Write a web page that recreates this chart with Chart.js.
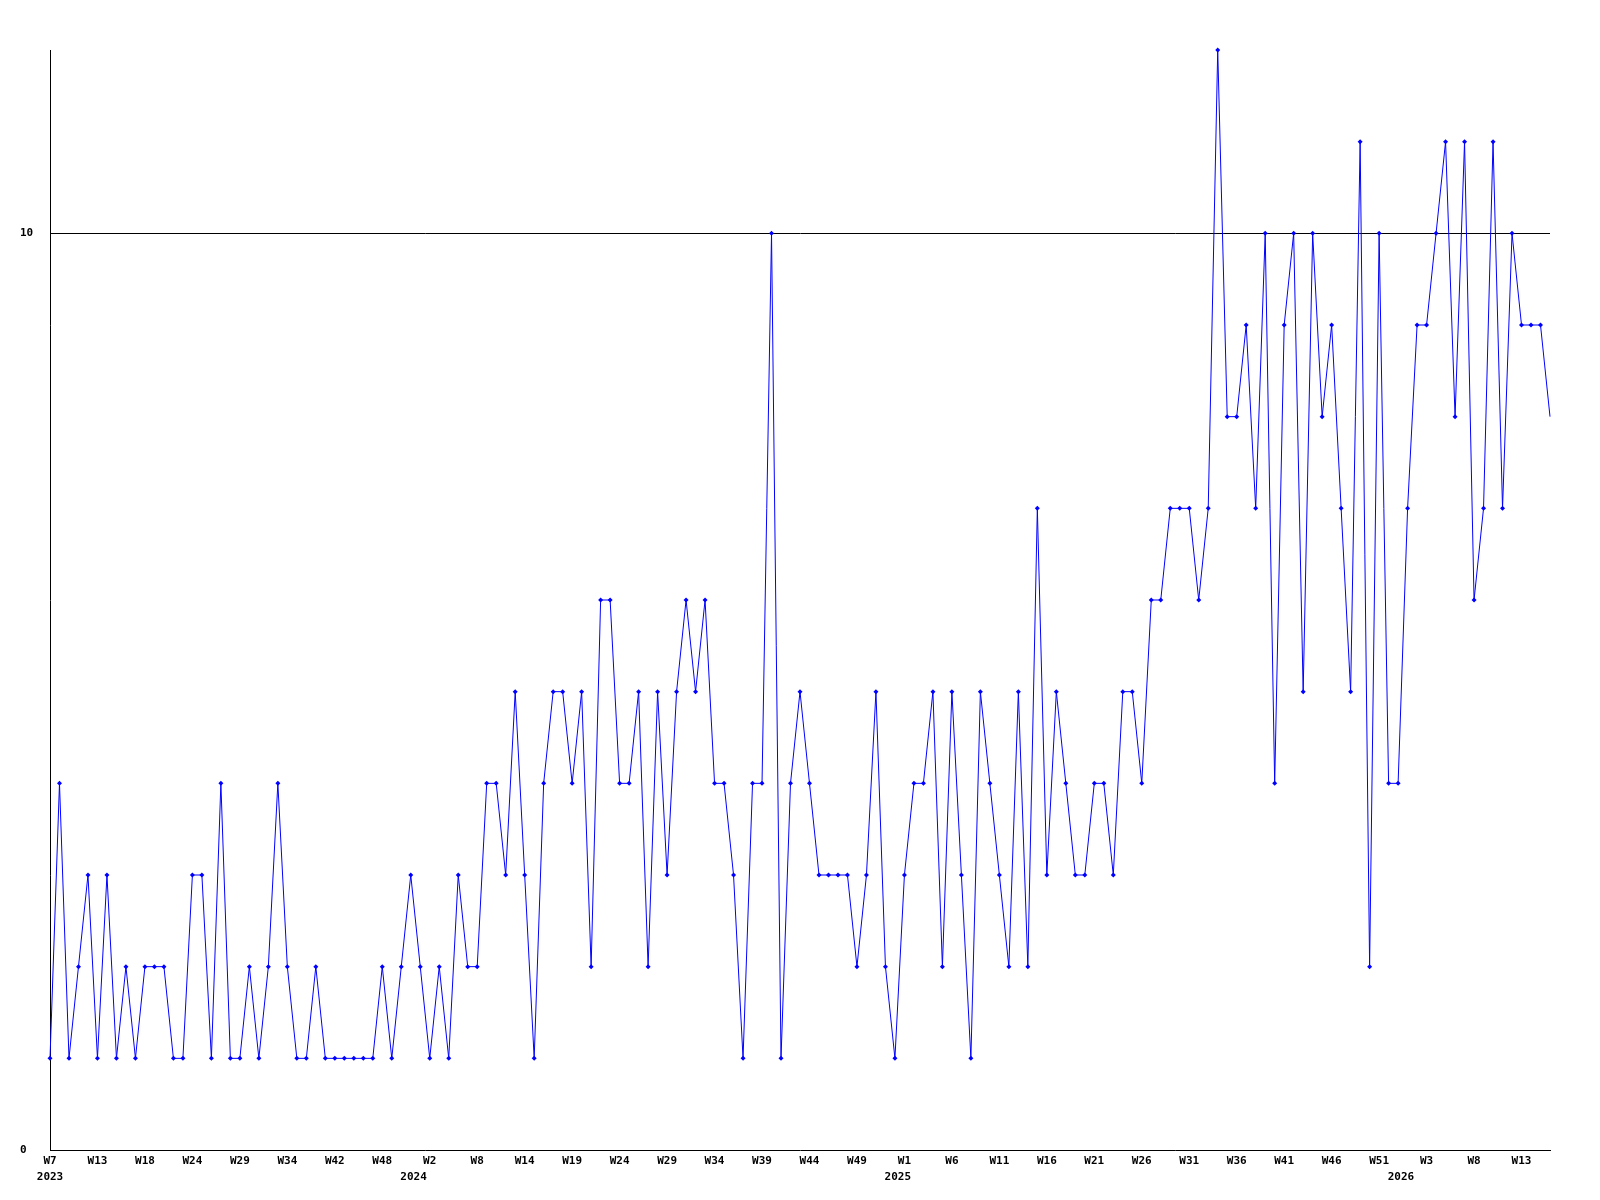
<!DOCTYPE html>
<html>
<head>
<meta charset="utf-8">
<script src="https://cdn.jsdelivr.net/npm/chart.js@4.4.1/dist/chart.umd.min.js"></script>
<style>
  body { margin: 0; background: #fff; }
  canvas { display: block; }
</style>
</head>
<body>
<canvas id="weeklyChart" width="1600" height="1200"></canvas>
<script>
// one value per week, starting at W7 2023
const weekValues = [
  1, 4, 1, 2, 3, 1, 3, 1, 2, 1,
  2, 2, 2, 1, 1, 3, 3, 1, 4, 1,
  1, 2, 1, 2, 4, 2, 1, 1, 2, 1,
  1, 1, 1, 1, 1, 2, 1, 2, 3, 2,
  1, 2, 1, 3, 2, 2, 4, 4, 3, 5,
  3, 1, 4, 5, 5, 4, 5, 2, 6, 6,
  4, 4, 5, 2, 5, 3, 5, 6, 5, 6,
  4, 4, 3, 1, 4, 4, 10, 1, 4, 5,
  4, 3, 3, 3, 3, 2, 3, 5, 2, 1,
  3, 4, 4, 5, 2, 5, 3, 1, 5, 4,
  3, 2, 5, 2, 7, 3, 5, 4, 3, 3,
  4, 4, 3, 5, 5, 4, 6, 6, 7, 7,
  7, 6, 7, 12, 8, 8, 9, 7, 10, 4,
  9, 10, 5, 10, 8, 9, 7, 5, 11, 2,
  10, 4, 4, 7, 9, 9, 10, 11, 8, 11,
  6, 7, 11, 7, 10, 9, 9, 9, 8
];

// week tick labels and the point they sit under
const tickPoints = [0, 5, 10, 15, 20, 25, 30, 35, 40, 45, 50, 55, 60, 65, 70, 75,
                    80, 85, 90, 95, 100, 105, 110, 115, 120, 125, 130, 135, 140, 145, 150, 155];
const tickWeeks = ["W7", "W13", "W18", "W24", "W29", "W34", "W42", "W48", "W2", "W8", "W14", "W19", "W24", "W29", "W34", "W39",
                   "W44", "W49", "W1", "W6", "W11", "W16", "W21", "W26", "W31", "W36", "W41", "W46", "W51", "W3", "W8", "W13"];

// year labels
const yearPoints = [0, 38.3, 89.3, 142.3];
const yearNames = ["2023", "2024", "2025", "2026"];

// y axis labels
const yTicks = [0, 10];

const labelFont = { family: "DejaVu Sans Mono", size: 11, weight: "bold" };

const ctx = document.getElementById("weeklyChart").getContext("2d");
const myChart = new Chart(ctx, {
    type: "line",
    data: {
        datasets: [{
            data: weekValues.map((v, i) => ({ x: i, y: v })),
            borderColor: "#0000ff",
            backgroundColor: "#0000ff",
            borderWidth: 1,
            tension: 0,
            clip: false,
            pointStyle: "rectRot",
            pointRadius: (c) => c.dataIndex === weekValues.length - 1 ? 0 : 2.5,
            pointBorderWidth: 0
        }]
    },
    options: {
        responsive: false,
        animation: false,
        layout: { padding: { top: 50, right: 50, left: 20, bottom: 14 } },
        plugins: {
            legend: { display: false },
            tooltip: { enabled: false }
        },
        scales: {
            x: {
                type: "linear",
                position: "bottom",
                weight: 0,
                min: 0,
                max: weekValues.length - 1,
                grid: { display: false, drawTicks: false },
                border: { color: "#000", width: 1 },
                afterBuildTicks: (scale) => { scale.ticks = tickPoints.map(v => ({ value: v })); },
                afterFit: (scale) => { scale.height = 20; },
                ticks: {
                    autoSkip: false,
                    maxRotation: 0,
                    padding: 5,
                    color: "#000",
                    font: labelFont,
                    callback: (value) => tickWeeks[tickPoints.indexOf(value)]
                }
            },
            x2: {
                type: "linear",
                position: "bottom",
                weight: 1,
                min: 0,
                max: weekValues.length - 1,
                grid: { display: false, drawTicks: false },
                border: { display: false },
                afterBuildTicks: (scale) => { scale.ticks = yearPoints.map(v => ({ value: v })); },
                afterFit: (scale) => { scale.height = 16; },
                ticks: {
                    autoSkip: false,
                    maxRotation: 0,
                    padding: 1,
                    color: "#000",
                    font: labelFont,
                    callback: (value) => yearNames[yearPoints.indexOf(value)]
                }
            },
            y: {
                min: 0,
                max: 12,
                grid: {
                    drawTicks: false,
                    color: (c) => c.tick && c.tick.value === 10 ? "#000" : "rgba(0,0,0,0)",
                    lineWidth: 1
                },
                border: { color: "#000", width: 1 },
                afterBuildTicks: (scale) => { scale.ticks = yTicks.map(v => ({ value: v })); },
                afterFit: (scale) => { scale.width = 30; },
                ticks: {
                    crossAlign: "far",
                    padding: 0,
                    color: "#000",
                    font: labelFont,
                    callback: (value) => String(value)
                }
            }
        }
    }
});
</script>
</body>
</html>
